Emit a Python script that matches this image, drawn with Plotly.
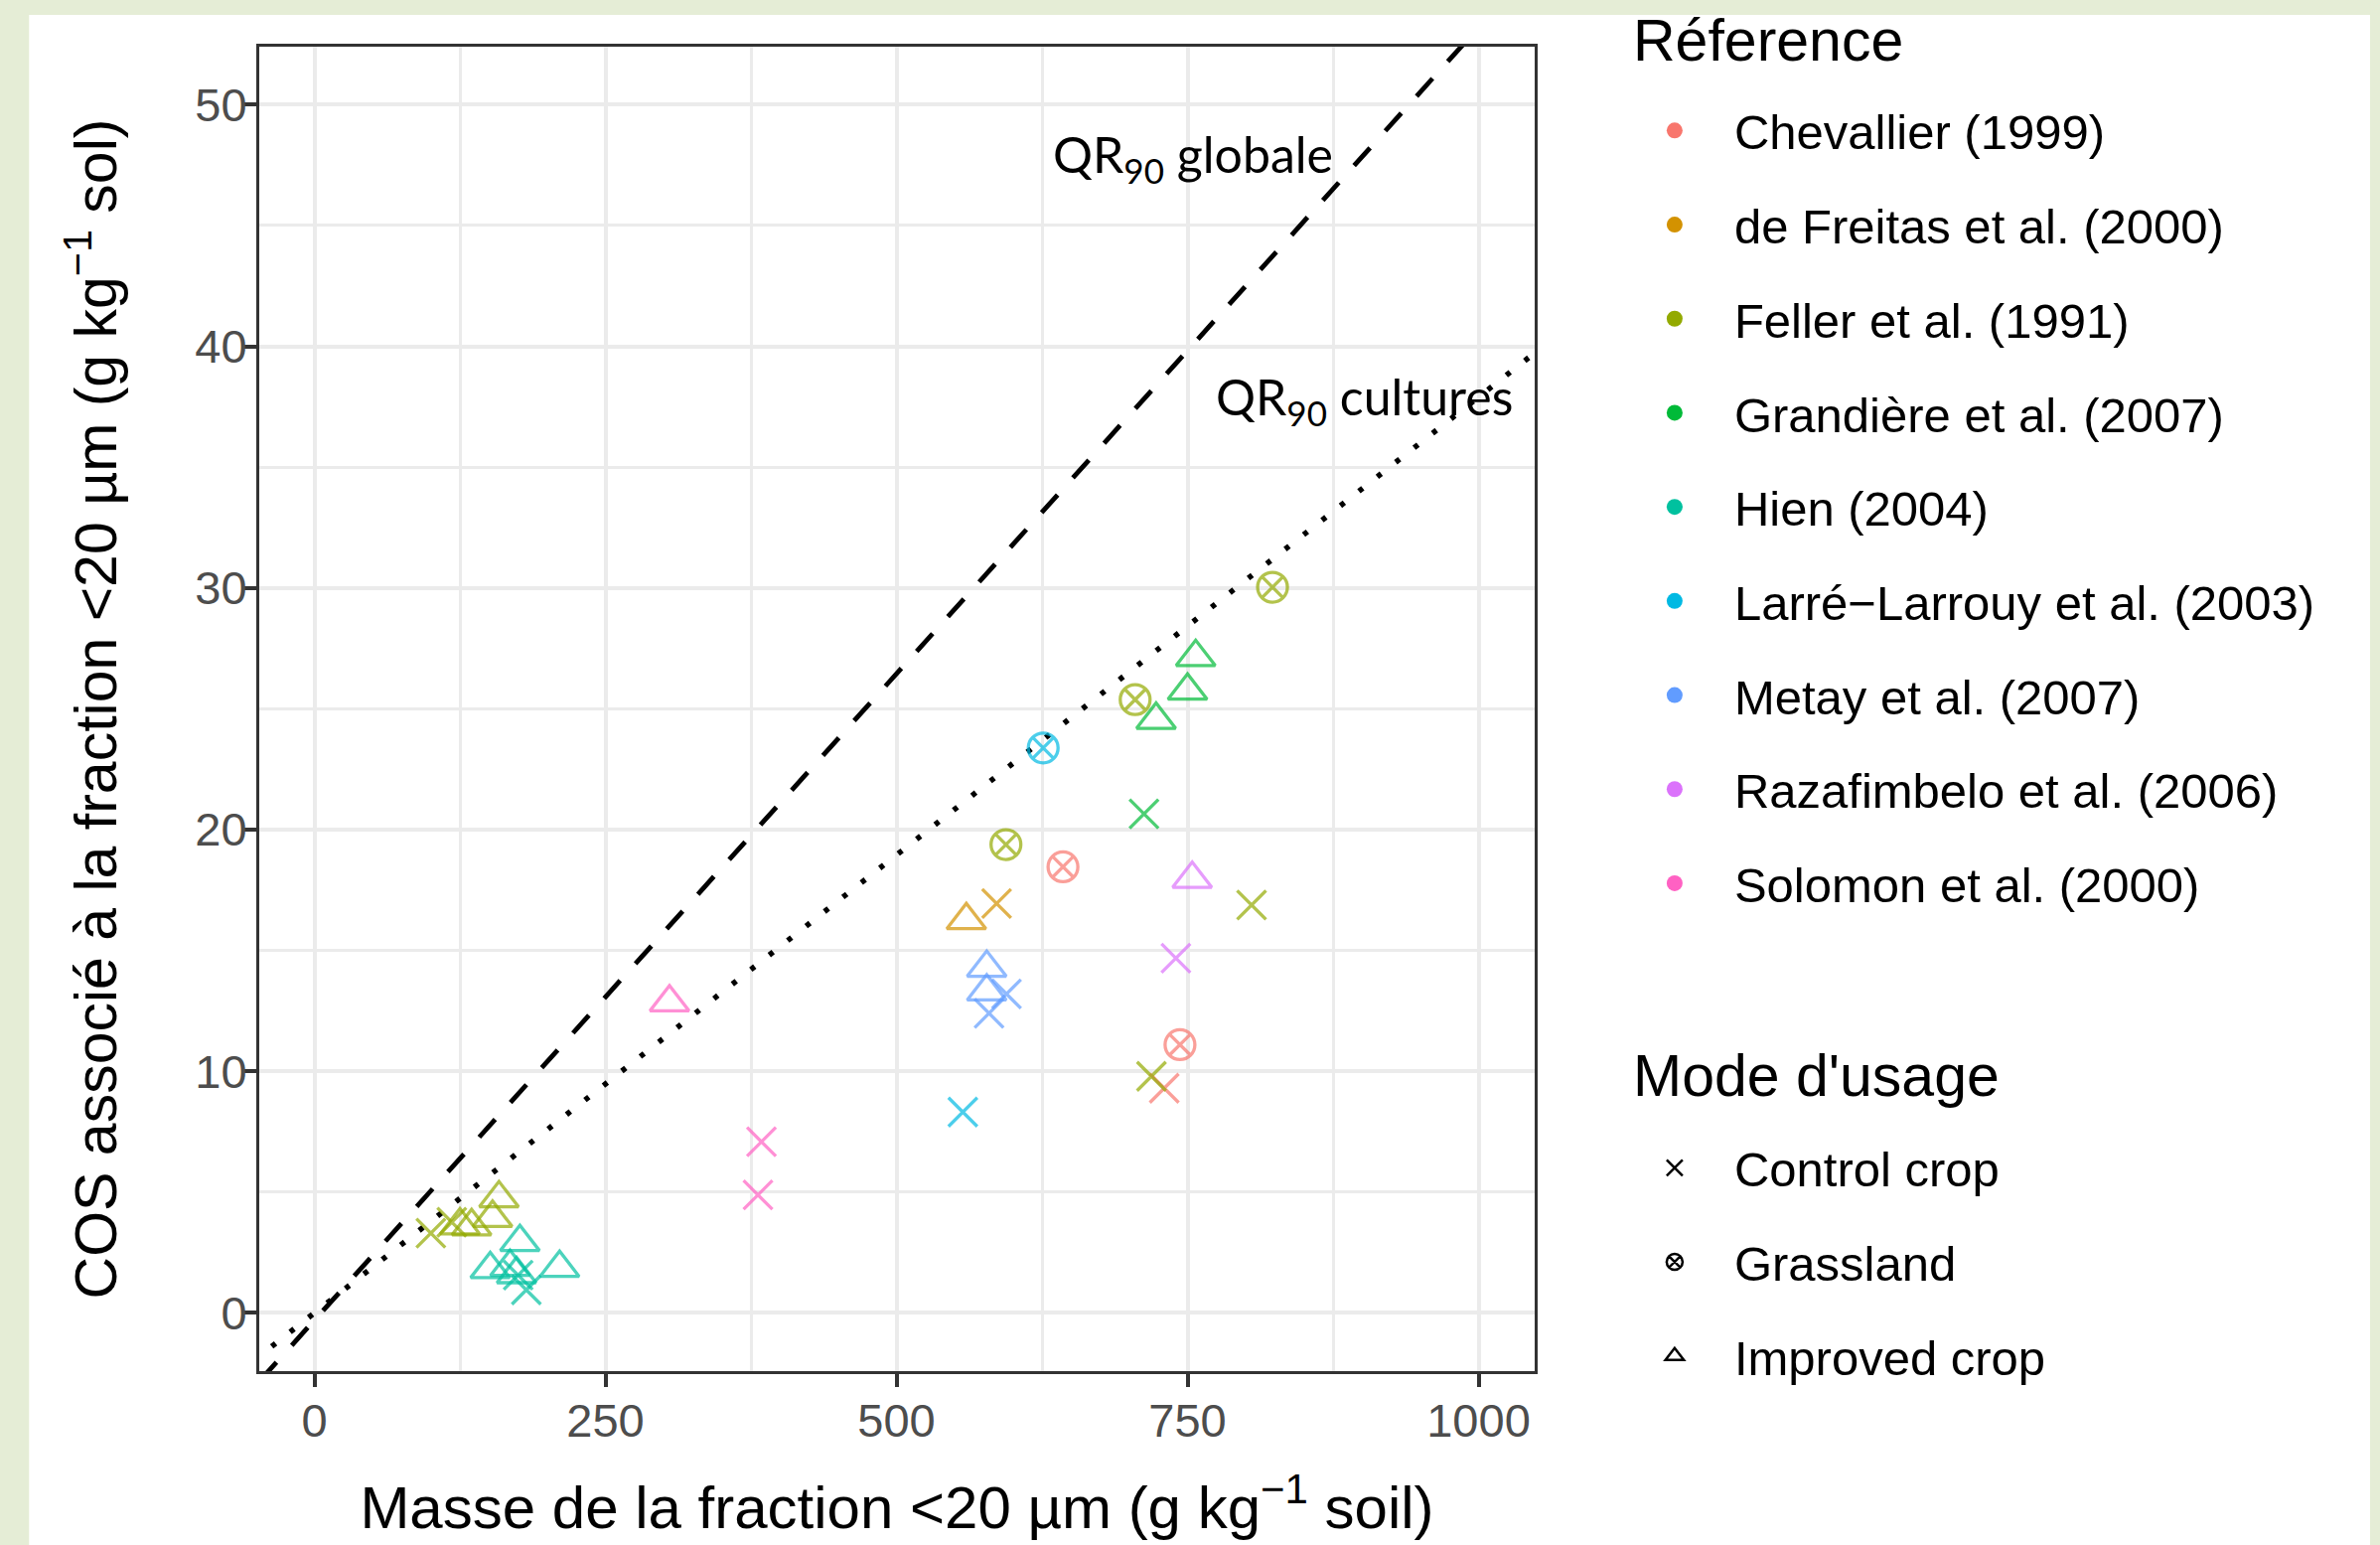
import plotly.graph_objects as go
import numpy as np

# ---------------- data ----------------
references = [
    "Chevallier (1999)", "de Freitas et al. (2000)", "Feller et al. (1991)",
    "Grandière et al. (2007)", "Hien (2004)", "Larré−Larrouy et al. (2003)",
    "Metay et al. (2007)", "Razafimbelo et al. (2006)", "Solomon et al. (2000)",
]
ref_colors = ["#F8766D", "#D39200", "#93AA00", "#00BA38", "#00C19F",
              "#00B9E3", "#619CFF", "#DB72FB", "#FF61C3"]
modes = ["Control crop", "Grassland", "Improved crop"]

point_ref = (
    ["Chevallier (1999)"] * 3
    + ["de Freitas et al. (2000)"] * 2
    + ["Feller et al. (1991)"] * 11
    + ["Grandière et al. (2007)"] * 4
    + ["Hien (2004)"] * 7
    + ["Larré−Larrouy et al. (2003)"] * 2
    + ["Metay et al. (2007)"] * 4
    + ["Razafimbelo et al. (2006)"] * 2
    + ["Solomon et al. (2000)"] * 3
)
point_mode = (
    ["Grassland", "Grassland", "Control crop"]
    + ["Improved crop", "Control crop"]
    + ["Grassland", "Grassland", "Grassland", "Control crop", "Control crop",
       "Control crop", "Control crop", "Improved crop", "Improved crop",
       "Improved crop", "Improved crop"]
    + ["Improved crop", "Improved crop", "Improved crop", "Control crop"]
    + ["Improved crop", "Improved crop", "Improved crop", "Improved crop",
       "Improved crop", "Control crop", "Control crop"]
    + ["Grassland", "Control crop"]
    + ["Improved crop", "Improved crop", "Control crop", "Control crop"]
    + ["Improved crop", "Control crop"]
    + ["Improved crop", "Control crop", "Control crop"]
)
point_x = (
    [643, 743.5, 730]
    + [560, 586]
    + [823, 705, 594, 805, 719, 100, 118, 158.5, 153, 135, 125]
    + [757, 750, 723, 712.6]
    + [176.5, 210.6, 151, 168, 173.6, 175, 182]
    + [626, 557]
    + [577.5, 577.5, 594.5, 579.5]
    + [754, 740]
    + [305, 384, 381]
)
point_y = (
    [18.46, 11.1, 9.3]
    + [16.25, 16.94]
    + [30.03, 25.38, 19.38, 16.88, 9.79, 3.3, 3.75, 4.74, 3.93, 3.58, 3.62]
    + [27.14, 25.75, 24.54, 20.65]
    + [2.93, 1.86, 1.81, 1.9, 1.6, 1.56, 0.95]
    + [23.38, 8.31]
    + [14.28, 13.3, 13.2, 12.4]
    + [17.96, 14.68]
    + [12.85, 7.08, 4.88]
)

# quantile-regression (QR90) lines: slope, intercept
qr_global = (0.0535, -0.3)
qr_crops = (0.0379, 0.0)

x_ticks = [0, 250, 500, 750, 1000]
y_ticks = [0, 10, 20, 30, 40, 50]

# ---------------- styling ----------------
sym_map = {"Control crop": "x-thin-open", "Grassland": "circle-x-open",
           "Improved crop": "triangle-up-open"}
size_map = {"Control crop": 29, "Grassland": 30, "Improved crop": 34}
FONT = "Liberation Sans, Arial, sans-serif"

fig = go.Figure()

# QR90 lines
xl = np.array([-100.0, 1100.0])
fig.add_trace(go.Scatter(x=xl, y=qr_global[0] * xl + qr_global[1], mode="lines",
                         line=dict(color="black", width=4.8, dash="24px,23px"),
                         showlegend=False, hoverinfo="skip"))
fig.add_trace(go.Scatter(x=xl, y=qr_crops[0] * xl + qr_crops[1], mode="lines",
                         line=dict(color="black", width=5.5, dash="5px,18.6px"),
                         showlegend=False, hoverinfo="skip"))

# data points
for ref, col in zip(references, ref_colors):
    idx = [i for i, r in enumerate(point_ref) if r == ref]
    fig.add_trace(go.Scatter(
        x=[point_x[i] for i in idx], y=[point_y[i] for i in idx], mode="markers",
        marker=dict(color=col, symbol=[sym_map[point_mode[i]] for i in idx],
                    size=[size_map[point_mode[i]] for i in idx],
                    line=dict(color=col, width=3.3)),
        name=ref, showlegend=False))

# legend: reference colours
for ref, col in zip(references, ref_colors):
    fig.add_trace(go.Scatter(x=[None], y=[None], mode="markers",
                             marker=dict(color=col, size=16, symbol="circle"),
                             name=ref, legend="legend", legendgroup=ref))
# legend: land-use modes
for m in modes:
    fig.add_trace(go.Scatter(x=[None], y=[None], mode="markers",
                             marker=dict(color="black", size=16, symbol=sym_map[m],
                                         line=dict(color="black", width=2.5)),
                             name=m, legend="legend2", legendgroup=m))

axis_common = dict(
    showline=True, mirror=True, linecolor="#333333", linewidth=3,
    ticks="outside", ticklen=13, tickwidth=3.5, tickcolor="#333333",
    tickfont=dict(family=FONT, size=47, color="#4D4D4D"),
    showgrid=True, gridcolor="#EBEBEB", gridwidth=4, zeroline=False,
)

fig.update_layout(
    width=2396, height=1555,
    margin=dict(l=261, r=851, t=47, b=175, autoexpand=False),
    paper_bgcolor="#E5EDD6", plot_bgcolor="white",
    font=dict(family=FONT, color="black"),
    xaxis=dict(range=[-47.4, 1048.2], tickvals=x_ticks, automargin=False,
               ticklabelstandoff=-6,
               minor=dict(dtick=125, tick0=0, showgrid=True, gridcolor="#EBEBEB",
                          gridwidth=2.5, ticks=""),
               title=dict(text="Masse de la fraction <20 µm (g kg<sup>−1</sup> soil)",
                          font=dict(family=FONT, size=60, color="black"), standoff=41),
               **axis_common),
    yaxis=dict(range=[-2.41, 52.4], tickvals=y_ticks, automargin=False,
               ticklabelstandoff=-13,
               minor=dict(dtick=5, tick0=0, showgrid=True, gridcolor="#EBEBEB",
                          gridwidth=2.5, ticks=""),
               title=dict(text="COS associé à la fraction <20 µm (g kg<sup>−1</sup> sol)",
                          font=dict(family=FONT, size=59, color="black"), standoff=60),
               **axis_common),
    legend=dict(font=dict(family=FONT, size=49), x=1.063, xanchor="left",
                y=0.9655, yanchor="top", tracegroupgap=28, itemwidth=110,
                maxheight=1500, bgcolor="rgba(0,0,0,0)"),
    legend2=dict(font=dict(family=FONT, size=49), x=1.063, xanchor="left",
                 y=0.1823, yanchor="top", tracegroupgap=28, itemwidth=110,
                 maxheight=600, bgcolor="rgba(0,0,0,0)"),
    shapes=[dict(type="rect", xref="paper", yref="paper", x0=-0.1805, x1=1.655,
                 y0=-0.2, y1=1.024, fillcolor="white", line=dict(width=0),
                 layer="below")],
    annotations=[
        dict(x=754.7, y=47.82, xref="x", yref="y", text="QR<sub>90</sub> globale",
             showarrow=False, font=dict(family="Lato, Open Sans, sans-serif", size=50,
                                        color="black")),
        dict(x=902, y=37.79, xref="x", yref="y", text="QR<sub>90</sub> cultures",
             showarrow=False, font=dict(family="Lato, Open Sans, sans-serif", size=50,
                                        color="black")),
        dict(x=1.0755, y=1.0045, xref="paper", yref="paper", text="Réference",
             xanchor="left", yanchor="middle", showarrow=False,
             font=dict(family=FONT, size=59, color="black")),
        dict(x=1.0755, y=0.2228, xref="paper", yref="paper", text="Mode d'usage",
             xanchor="left", yanchor="middle", showarrow=False,
             font=dict(family=FONT, size=59, color="black")),
    ],
)

fig.write_html("out.html", config={"displayModeBar": False},
               post_script="document.body.style.margin='0';document.body.style.overflow='hidden';")
